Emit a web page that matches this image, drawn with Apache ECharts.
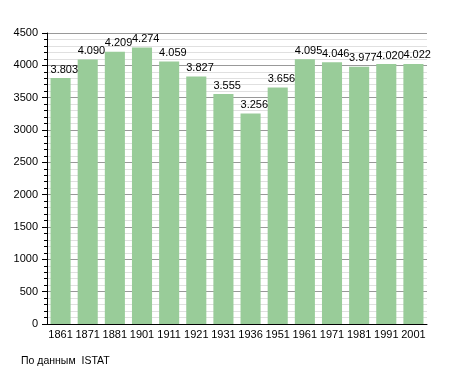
<!DOCTYPE html>
<html><head><meta charset="utf-8">
<script src="https://cdn.jsdelivr.net/npm/echarts@6/dist/echarts.min.js"></script>
<style>html,body{margin:0;padding:0;background:#fff}#c{width:455px;height:373px}</style>
</head><body><div id="c"></div>
<script>
const categories = ['1861','1871','1881','1901','1911','1921','1931','1936','1951','1961','1971','1981','1991','2001'];
const population = [3803,4090,4209,4274,4059,3827,3555,3256,3656,4095,4046,3977,4020,4022];
const yTicks = [0,500,1000,1500,2000,2500,3000,3500,4000,4500];
const sourceText = 'По данным  ISTAT';

const font = 'Liberation Sans, Arial, sans-serif';
const chart = echarts.init(document.getElementById('c'), null, {renderer:'canvas'});
chart.setOption({
  animation:false,
  backgroundColor:'#fff',
  grid:{left:47,right:28,top:33,bottom:49},
  graphic:[{type:'text',left:21,top:356,style:{text:sourceText,font:'10.5px '+font,fill:'#000'}}],
  xAxis:{type:'category',data:categories,
    axisLine:{lineStyle:{color:'#000',width:1}},
    axisTick:{show:false},
    axisLabel:{color:'#000',fontFamily:font,fontSize:11,margin:5,interval:0}},
  yAxis:{type:'value',min:yTicks[0],max:yTicks[yTicks.length-1],interval:500,
    axisLine:{show:true,lineStyle:{color:'#000'}},
    axisTick:{show:true,length:5,lineStyle:{color:'#000'}},
    minorTick:{show:true,splitNumber:5,length:3,lineStyle:{color:'#000'}},
    axisLabel:{color:'#000',fontFamily:font,fontSize:11,margin:9,formatter:v=>String(v)},
    splitLine:{show:true,lineStyle:{color:'#999',width:1}},
    minorSplitLine:{show:true,lineStyle:{color:'#e0e0e0',width:1}}},
  series:[{type:'bar',data:population,barCategoryGap:'26%',
    itemStyle:{color:'#99cc99'},
    label:{show:true,position:[0,-3],align:'left',verticalAlign:'bottom',color:'#000',fontFamily:font,fontSize:11,
      formatter:p=>{const s=String(p.value);return s.length>3?s.slice(0,s.length-3)+'.'+s.slice(-3):s;}}}]
});
</script></body></html>
